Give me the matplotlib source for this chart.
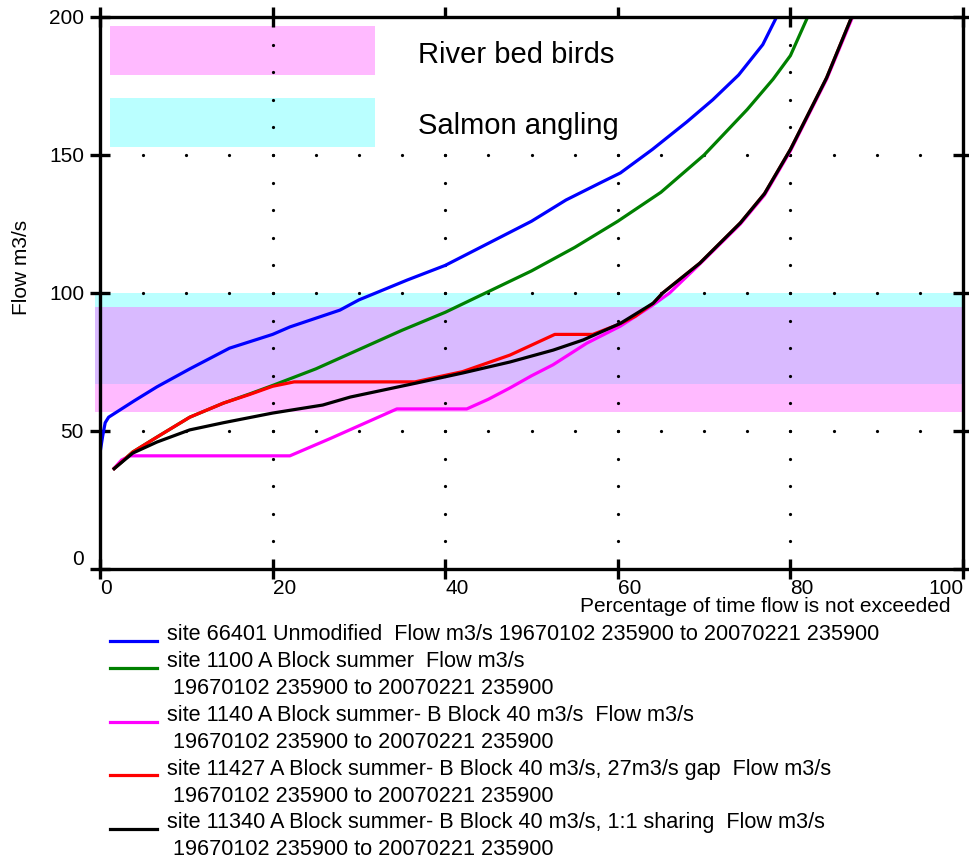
import matplotlib
matplotlib.use("Agg")
from matplotlib import pyplot as plt
from matplotlib.patches import Rectangle
from matplotlib.lines import Line2D
import numpy as np

plt.rcParams['font.family'] = ['Liberation Sans', 'DejaVu Sans']

# flow duration curves (percent of time not exceeded, flow m3/s)
pct_unmod = [0, 0.3, 0.6, 1, 2.3, 4, 6.6, 10.4, 15, 20, 22, 27.8, 30, 35.6, 40, 45, 50,
             54, 57.9, 60.3, 64, 68, 71, 74, 76.8, 78.4]
flow_unmod = [42, 48, 53, 55, 57.6, 61, 66, 72.5, 80, 85, 87.7, 93.8, 97.5, 104.7, 110, 118,
              126, 133.7, 139.8, 143.5, 152, 162, 170, 179, 190, 200]

pct_a = [1.5, 3.8, 6.6, 10.4, 14.3, 17.4, 20, 25, 30, 35, 40, 45, 50, 55, 60, 65, 70, 75, 78,
         80, 82]
flow_a = [36, 42.4, 47.8, 55, 60.1, 63.5, 66.5, 72.5, 79.5, 86.5, 93, 100.5, 108, 116.5, 126,
          136.5, 150, 166.5, 177.5, 186, 200]

pct_b40 = [1.5, 2.5, 3.5, 22, 26.7, 34.4, 42.5, 45, 47.5, 50, 52.5, 56.4, 60.3, 64, 66, 69.5,
           74.2, 77, 80, 84.2, 87.2]
flow_b40 = [36, 39.5, 41, 41, 47.3, 58, 58, 61.5, 65.6, 70, 74, 81.8, 88, 95.5, 100, 110.5,
            125, 135.5, 151.5, 177.5, 200]

pct_gap = [1.5, 3.8, 6.6, 10.4, 14.3, 17.4, 20, 22.5, 36.5, 42, 47.5, 52.7, 57.1, 60, 62, 64.1,
           65.2, 69.5, 74.2, 77, 80, 84.2, 87.1]
flow_gap = [36, 42.4, 47.8, 55, 60.1, 63.3, 66.2, 67.8, 67.8, 71.5, 77.5, 85, 85, 88.5, 91.5,
            96.3, 100, 110.8, 125.4, 136, 152, 178, 200]

pct_share = [1.5, 3.8, 6.6, 10.4, 14.3, 20, 25.8, 29, 36.7, 42, 47.5, 52.5, 56, 60.3, 64.1,
             65.2, 69.5, 74.2, 77, 80, 84.2, 87.1]
flow_share = [36, 42, 46, 50.4, 53, 56.5, 59.4, 62.3, 67.4, 71, 75, 79.3, 83, 89, 96.3, 100,
              110.8, 125.4, 136, 152, 178, 200]

# flow bands of interest
birds_band = (57, 95)
salmon_band = (67, 100)

legend_labels = [
    ["site 66401 Unmodified  Flow m3/s 19670102 235900 to 20070221 235900"],
    ["site 1100 A Block summer  Flow m3/s", " 19670102 235900 to 20070221 235900"],
    ["site 1140 A Block summer- B Block 40 m3/s  Flow m3/s", " 19670102 235900 to 20070221 235900"],
    ["site 11427 A Block summer- B Block 40 m3/s, 27m3/s gap  Flow m3/s",
     " 19670102 235900 to 20070221 235900"],
    ["site 11340 A Block summer- B Block 40 m3/s, 1:1 sharing  Flow m3/s",
     " 19670102 235900 to 20070221 235900"],
]

W, H = 969, 859
fig = plt.figure(figsize=(W / 100, H / 100), dpi=100)
ax = fig.add_axes([100 / W, 1 - 569 / H, 863 / W, 552 / H])

ax.set_xlim(0, 100)
ax.set_ylim(0, 200)

# bands
ax.axhspan(*salmon_band, xmin=-0.006, facecolor='#66ffff', alpha=0.45, lw=0, zorder=1,
           clip_on=False)
ax.axhspan(*birds_band, xmin=-0.006, facecolor='#ff66ff', alpha=0.45, lw=0, zorder=1,
           clip_on=False)

# dotted grid
gx = np.arange(10, 200, 10)
for xv in [20, 40, 60, 80]:
    ax.plot(np.full(gx.shape, xv), gx, 'o', ms=2.3, color='black', mec='none', zorder=2)
gy = np.arange(5, 101, 5)
for yv in [50, 100, 150]:
    ax.plot(gy, np.full(gy.shape, yv), 'o', ms=2.3, color='black', mec='none', zorder=2,
            clip_on=False)

# curves
series = [(pct_unmod, flow_unmod, '#0000ff'),
          (pct_a, flow_a, '#008000'),
          (pct_b40, flow_b40, '#ff00ff'),
          (pct_gap, flow_gap, '#ff0000'),
          (pct_share, flow_share, '#000000')]
for px, fy, c in series:
    ax.plot(px, fy, color=c, lw=2.3, zorder=3, solid_capstyle='butt', solid_joinstyle='round')

# band key inside the plot
ax.add_patch(Rectangle((1.2, 179), 30.7, 17.7, facecolor='#ff66ff', alpha=0.45, lw=0, zorder=1.5))
ax.add_patch(Rectangle((1.2, 153), 30.7, 17.6, facecolor='#66ffff', alpha=0.45, lw=0, zorder=1.5))
box = Rectangle((34.8, 156.6), 30.4, 43.4, facecolor='white', lw=0, zorder=4)
ax.add_patch(box)
ax.text(36.8, 183.3, "River bed birds", fontsize=21, va='baseline', zorder=5)
t = ax.text(36.8, 157.6, "Salmon angling", fontsize=21, va='baseline', zorder=5)
t.set_clip_path(box)

# axes styling
for s in ax.spines.values():
    s.set_linewidth(2.4)
    s.set_zorder(6)
ax.set_xticks([0, 20, 40, 60, 80, 100])
ax.set_yticks([0, 50, 100, 150, 200])
ax.tick_params(direction='inout', length=15, width=2.4, top=True, right=True,
               labelsize=15, pad=0)
ax.tick_params(axis='y', pad=4)
xl = ax.get_xticklabels()
for lab in xl:
    lab.set_ha('left')
xl[-1].set_ha('right')
ax.get_yticklabels()[0].set_va('bottom')

fig.text(950 / W, 1 - 607 / H, "Percentage of time flow is not exceeded", fontsize=15,
         ha='right', va='center')
fig.text(22 / W, 1 - 267 / H, "Flow m3/s", fontsize=15, rotation=90, ha='center', va='center')

# legend below the plot
line_y = [641, 668, 722, 775, 829]
base_y = [640, 667, 721, 775, 828]
step = 27
for (px, fy, c), lines, ly, by in zip(series, legend_labels, line_y, base_y):
    fig.add_artist(Line2D([110 / W, 157 / W], [1 - ly / H, 1 - ly / H], color=c, lw=2.3,
                          transform=fig.transFigure))
    for i, txt in enumerate(lines):
        fig.text(167 / W, 1 - (by + i * step) / H, txt, fontsize=15.6, ha='left',
                 va='baseline')

fig.savefig("out.png", dpi=100)
